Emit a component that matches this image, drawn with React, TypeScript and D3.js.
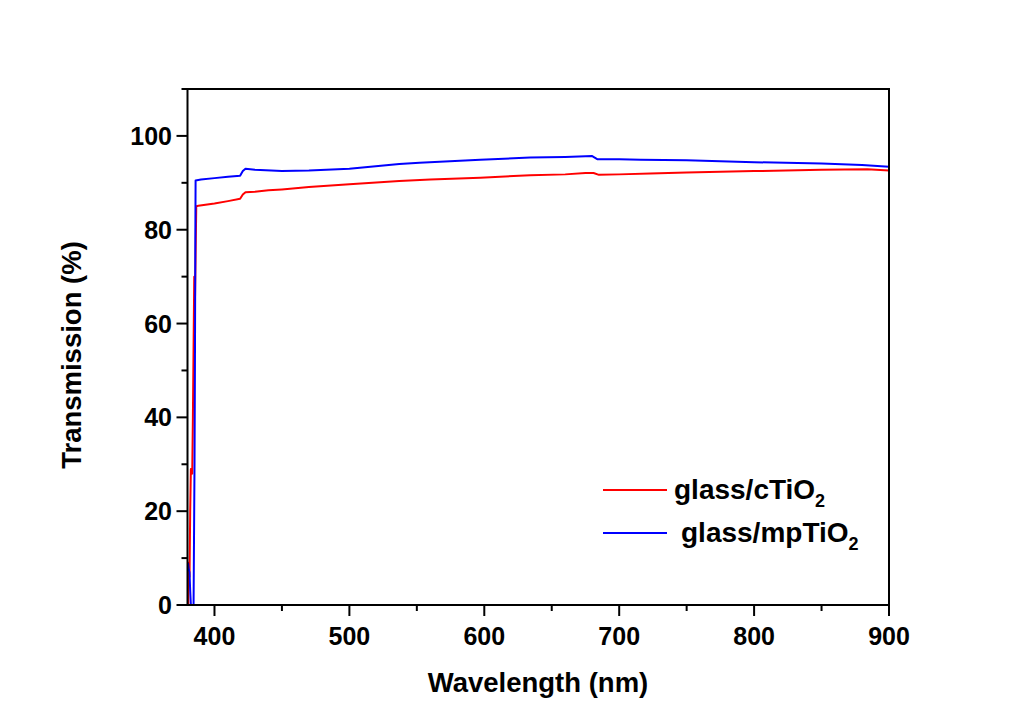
import React from "react";
import * as d3 from "d3";

// Wavelength (nm) / transmission (%) pairs
const redWl = [380.6, 380.8, 381.5, 382, 382.5, 383.5, 384, 385, 385.5, 386.5, 388, 400, 410, 419, 421, 423, 430, 440, 450, 470, 500, 537, 560, 597, 634, 660, 675, 681, 685, 700, 723, 750, 800, 850, 884, 900];
const redT = [0, 9, 6, 20, 29, 28, 40, 70, 64, 85, 85.1, 85.6, 86.1, 86.6, 87.5, 88, 88.1, 88.4, 88.6, 89.1, 89.7, 90.4, 90.7, 91.1, 91.6, 91.8, 92.1, 92.1, 91.7, 91.8, 92.0, 92.2, 92.5, 92.8, 92.9, 92.6];

const blueWl = [380.4, 381, 381.5, 382, 382.5, 384.5, 385.2, 385.5, 385.8, 386, 390, 400, 410, 419, 421, 423, 430, 450, 470, 500, 537, 552, 597, 634, 660, 680, 684, 700, 716, 750, 800, 850, 880, 900];
const blueT = [9, 7.5, 7, 3, 0, 0, 30, 50, 78, 90.5, 90.7, 91.0, 91.3, 91.5, 92.5, 93.0, 92.8, 92.5, 92.6, 93.0, 94.0, 94.3, 94.9, 95.4, 95.5, 95.7, 95.0, 95.0, 94.9, 94.8, 94.4, 94.1, 93.8, 93.4];

const xMajor = [400, 500, 600, 700, 800, 900];
const xMinor = [450, 550, 650, 750, 850];
const yMajor = [0, 20, 40, 60, 80, 100];
const yMinor = [10, 30, 50, 70, 90, 110];

const seriesNames = ["glass/cTiO", "glass/mpTiO"];
const seriesColors = ["#ff0000", "#0000ff"];

const W = 1016, H = 715;
const L = 187.5, R = 889, T = 89, B = 605;
const FONT = "'Liberation Sans', Arial, sans-serif";

export default function App() {
  const x = d3.scaleLinear().domain([380, 900]).range([L, R]);
  const y = d3.scaleLinear().domain([0, 110]).range([B, T]);
  const line = d3.line<[number, number]>().x(d => x(d[0])).y(d => y(d[1]));
  const red = redWl.map((w, i) => [w, redT[i]] as [number, number]);
  const blue = blueWl.map((w, i) => [w, blueT[i]] as [number, number]);

  return (
    <div style={{ position: "fixed", left: 0, top: 0 }}>
      <svg width={W} height={H} style={{ display: "block", background: "#ffffff" }}>
        <defs>
          <clipPath id="plot">
            <rect x={L} y={T} width={R - L} height={B - T} />
          </clipPath>
        </defs>
        <g clipPath="url(#plot)" fill="none" strokeWidth={2} strokeLinejoin="round">
          <path d={line(red) || ""} stroke={seriesColors[0]} />
          <path d={line(blue) || ""} stroke={seriesColors[1]} />
        </g>
        <rect x={L} y={T} width={R - L} height={B - T} fill="none" stroke="#000" strokeWidth={2} />
        {xMajor.map(v => (
          <g key={"xm" + v}>
            <line x1={x(v)} x2={x(v)} y1={B} y2={B + 11} stroke="#000" strokeWidth={2} />
            <text x={x(v)} y={645} textAnchor="middle" fontFamily={FONT} fontWeight="bold" fontSize={25}>{v}</text>
          </g>
        ))}
        {xMinor.map(v => (
          <line key={"xn" + v} x1={x(v)} x2={x(v)} y1={B} y2={B + 6} stroke="#000" strokeWidth={2} />
        ))}
        {yMajor.map(v => (
          <g key={"ym" + v}>
            <line x1={L - 11} x2={L} y1={y(v)} y2={y(v)} stroke="#000" strokeWidth={2} />
            <text x={172} y={y(v)} dy="0.36em" textAnchor="end" fontFamily={FONT} fontWeight="bold" fontSize={25}>{v}</text>
          </g>
        ))}
        {yMinor.map(v => (
          <line key={"yn" + v} x1={L - 6} x2={L} y1={y(v)} y2={y(v)} stroke="#000" strokeWidth={2} />
        ))}
        <text x={538} y={692} textAnchor="middle" fontFamily={FONT} fontWeight="bold" fontSize={27.5}>Wavelength (nm)</text>
        <text transform="translate(81,355) rotate(-90)" textAnchor="middle" fontFamily={FONT} fontWeight="bold" fontSize={27.5}>Transmission (%)</text>
        {seriesNames.map((n, i) => {
          const ly = i === 0 ? 490 : 533;
          const tx = i === 0 ? 674 : 681;
          return (
            <g key={n}>
              <line x1={603} x2={667} y1={ly} y2={ly} stroke={seriesColors[i]} strokeWidth={2} />
              <text x={tx} y={ly + 9} fontFamily={FONT} fontWeight="bold" fontSize={28}>
                {n}
                <tspan fontSize={18} dy={8}>2</tspan>
              </text>
            </g>
          );
        })}
      </svg>
    </div>
  );
}
